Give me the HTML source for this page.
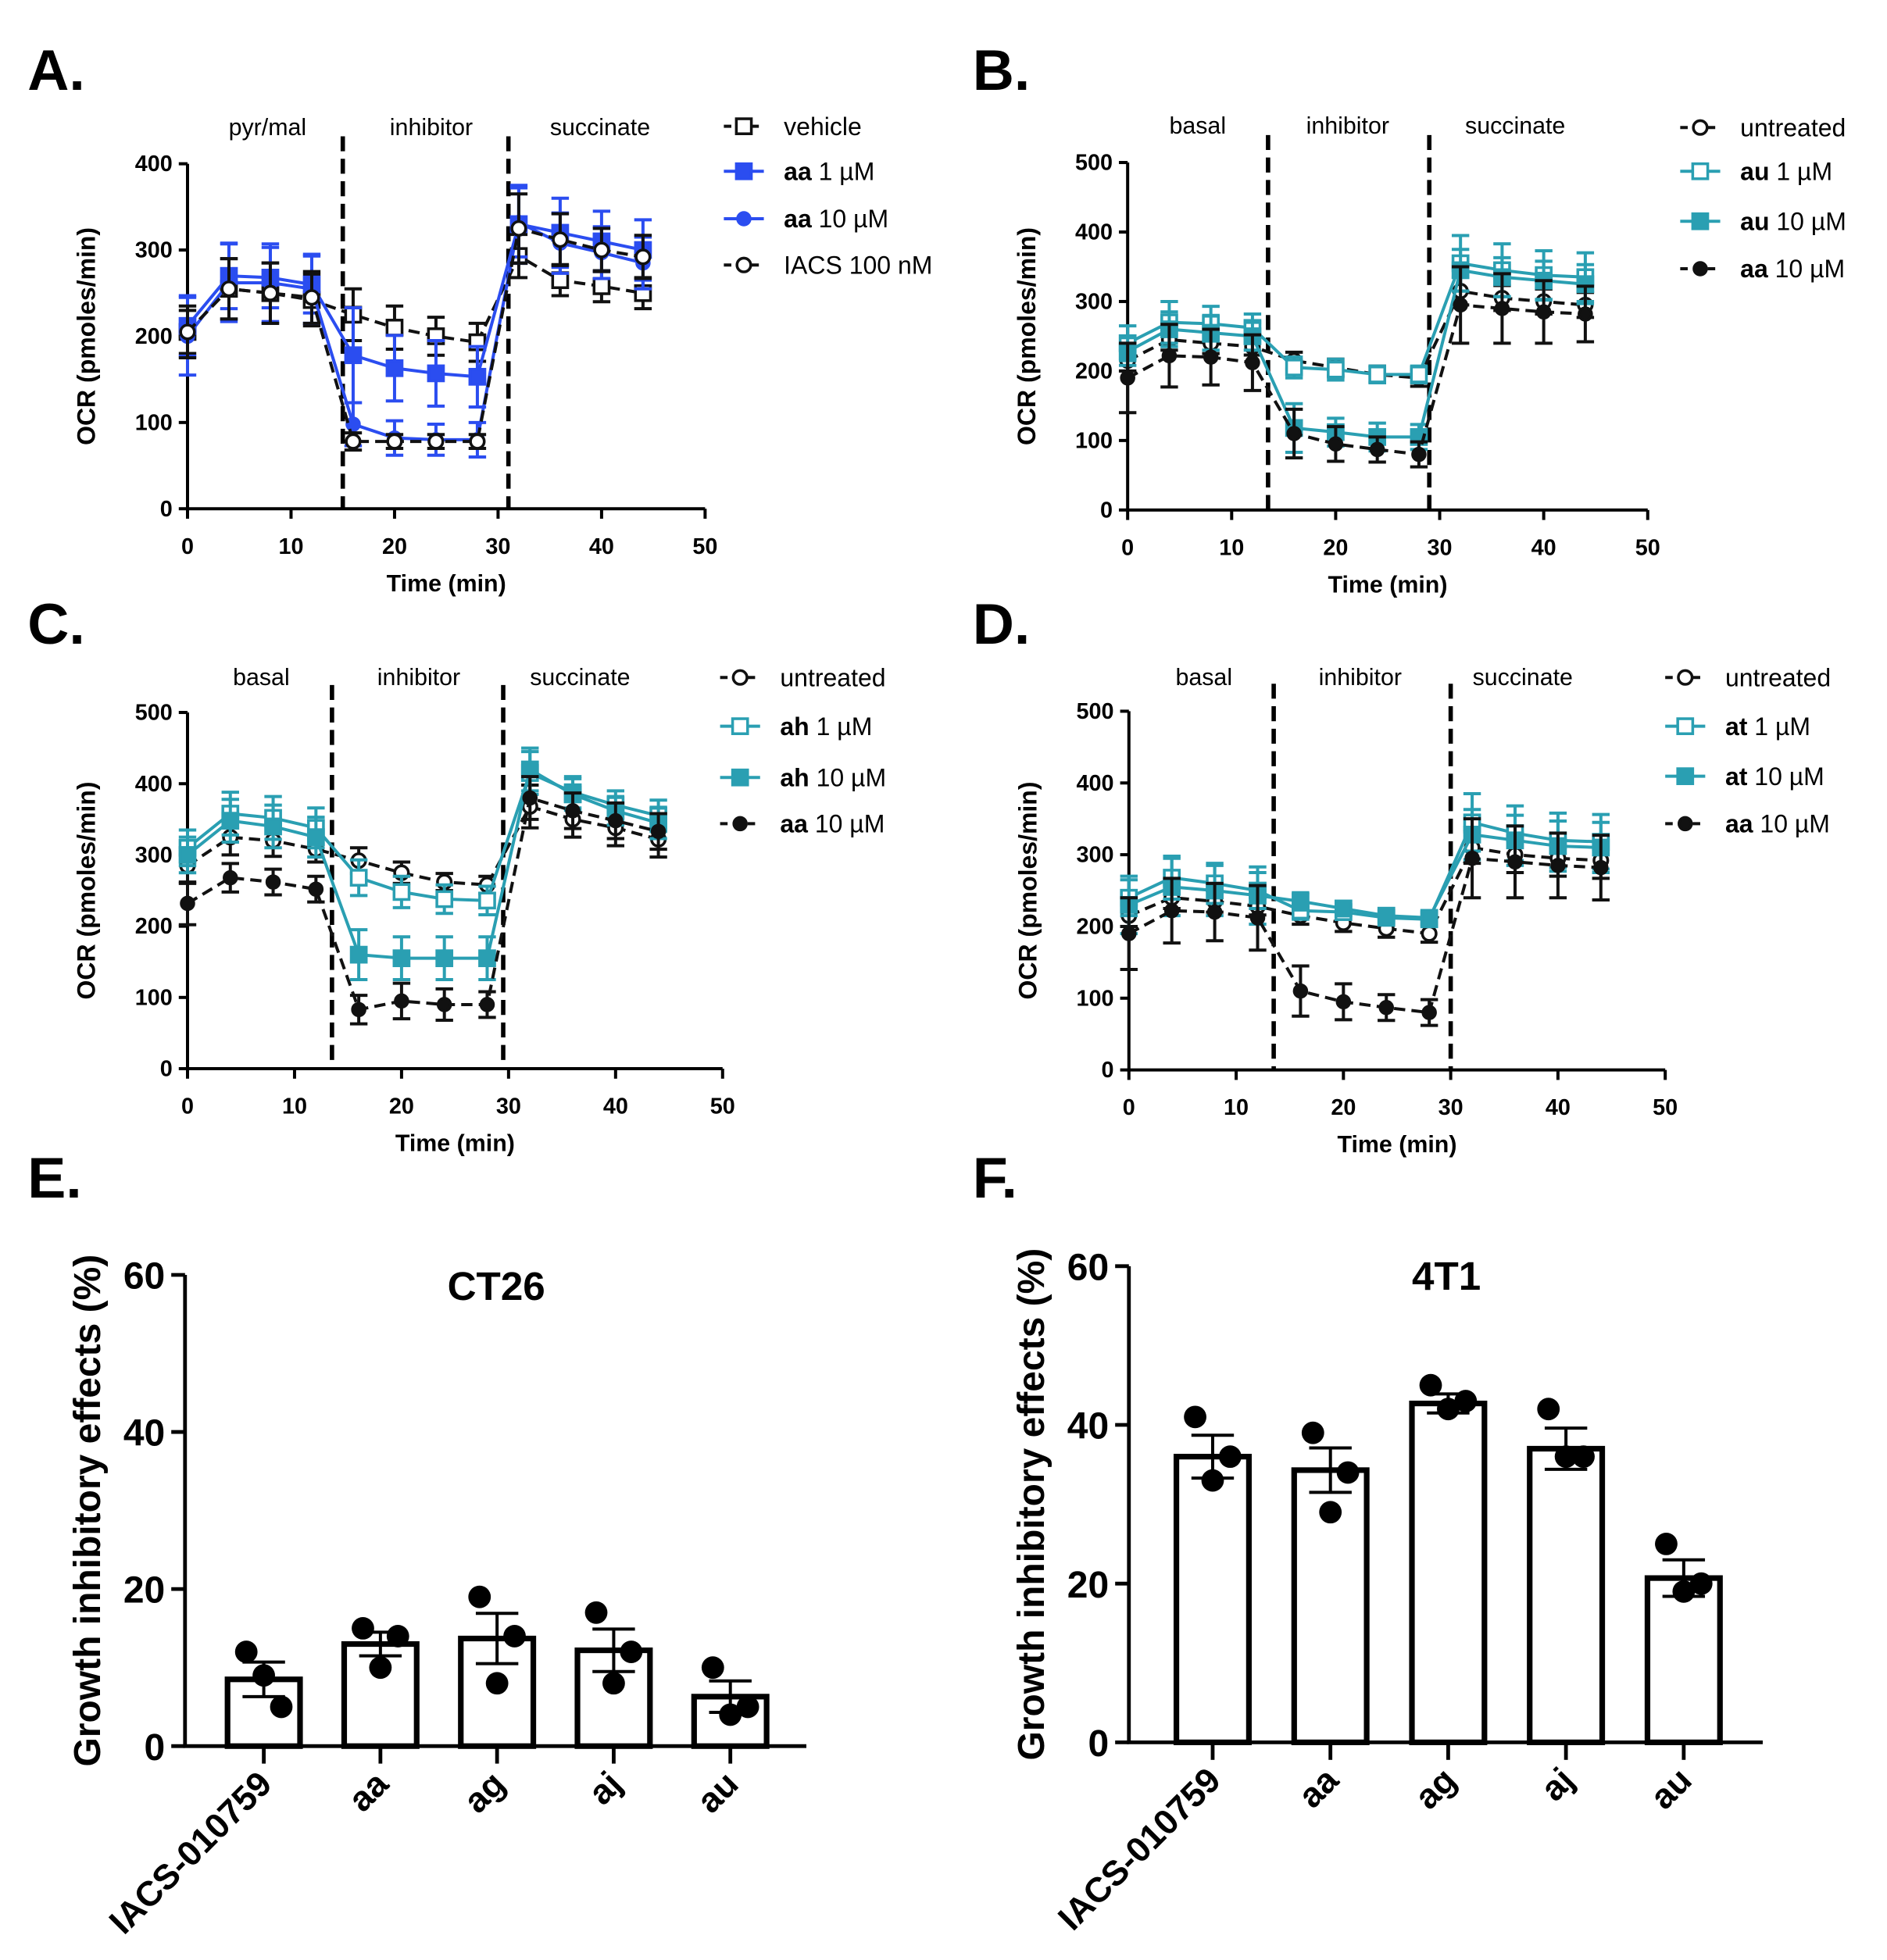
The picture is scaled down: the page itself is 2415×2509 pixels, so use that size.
<!DOCTYPE html>
<html><head><meta charset="utf-8"><style>
html,body{margin:0;padding:0;background:#fff;}
svg{display:block;font-family:"Liberation Sans",sans-serif;}
</style></head><body>
<svg id="fig" width="2415" height="2509" viewBox="0 0 1509.4 1568.1" xmlns="http://www.w3.org/2000/svg"></svg>
<script>
const times = [0,4,8,12,16,20,24,28,32,36,40,44];
const BLK = '#111', BLUE = '#2b4df0', TEAL = '#2a9fb2';
// Panel A
const aVehicle = [205,255,250,242,225,210,200,193,293,265,258,250];
const aVehicleErr = [25,35,35,30,30,25,22,22,25,18,18,18];
const aAa1 = [212,270,268,260,178,163,157,153,330,320,310,300];
const aAa1Err = [35,38,35,33,55,38,38,35,45,40,35,35];
const aAa10 = [200,262,262,255,98,82,80,80,332,308,297,285];
const aAa10Err = [45,45,45,40,25,20,18,20,40,35,30,30];
const aIacs = [205,255,250,245,78,78,78,78,325,312,300,292];
const aIacsErr = [30,35,35,30,10,8,8,8,40,30,25,25];
// Panel B
const bUnt = [215,245,240,235,215,205,195,190,315,305,300,295];
const bUntErr = [15,15,15,12,12,12,12,12,20,18,18,18];
const bAu1 = [240,270,268,262,205,202,195,195,355,345,338,335];
const bAu1Err = [25,30,25,20,15,15,12,12,40,38,35,35];
const bAu10 = [228,260,255,250,118,112,105,105,345,335,330,325];
const bAu10Err = [20,25,25,20,35,20,20,18,30,28,28,28];
const bAa10 = [190,222,220,212,110,95,87,80,295,290,285,282];
const bAa10Err = [50,45,40,40,35,25,18,18,55,50,45,40];
// Panel C
const cUnt = [285,325,320,308,292,275,262,258,368,350,338,322];
const cUntErr = [25,25,22,18,18,15,12,12,30,25,25,25];
const cAh1 = [310,358,352,338,268,248,238,236,415,388,370,355];
const cAh1Err = [25,30,30,28,25,22,20,20,30,22,20,22];
const cAh10 = [300,348,340,325,160,155,155,155,420,385,362,345];
const cAh10Err = [25,30,30,28,35,30,30,30,30,22,20,22];
const cAa10 = [232,268,262,252,83,95,90,90,380,362,348,333];
const cAa10Err = [30,20,18,18,20,25,22,18,30,25,25,25];
// Panel D
const dUnt = [215,240,235,228,215,205,197,190,310,300,295,292];
const dUntErr = [15,15,15,12,12,12,12,12,22,25,25,25];
const dAt1 = [240,268,260,250,222,220,212,210,345,330,320,318];
const dAt1Err = [25,30,28,25,12,10,8,8,40,38,38,38];
const dAt10 = [230,255,250,243,235,225,215,212,328,320,312,310];
const dAt10Err = [40,40,35,40,12,10,8,8,35,35,35,35];
const dAa10 = [190,222,220,212,110,95,87,80,295,290,285,282];
const dAa10Err = [50,45,40,45,35,25,18,18,55,50,45,45];
// Bars
const barCats = ['IACS-010759','aa','ag','aj','au'];
const eMeans = [8.5,13,13.7,12.2,6.3];
const eErr = [2.2,1.5,3.2,2.7,2.0];
const ePts = [[12,9,5],[15,10,14],[19,8,14],[17,8,12],[10,4,5]];
const fMeans = [36,34.3,42.7,37,20.7];
const fErr = [2.7,2.8,1.2,2.6,2.3];
const fPts = [[41,33,36],[39,29,34],[45,42,43],[42,36,36],[25,19,20]];
const lineTicksX = [0,10,20,30,40,50];
const barTicksY = [0,20,40,60];

const svg = document.getElementById('fig');
const NS = 'http://www.w3.org/2000/svg';
function mk(tag, attrs, parent, text){
  const e = document.createElementNS(NS, tag);
  for (const k in attrs) e.setAttribute(k, attrs[k]);
  if (text !== undefined) e.textContent = text;
  (parent||svg).appendChild(e);
  return e;
}
function marker(g, shape, filled, color, x, y, s){
  let m;
  if (shape==='sq') m = mk('rect',{x:x-s,y:y-s,width:2*s,height:2*s,fill:filled?color:'#fff',stroke:color,'stroke-width':2.2},g);
  else m = mk('circle',{cx:x,cy:y,r:s,fill:filled?color:'#fff',stroke:color,'stroke-width':2.2},g);
  return m;
}
function letter(t,x,y){
  const e = mk('text',{x:x,y:y,'font-size':46,'font-weight':'bold',fill:'#000'},svg,t);
  
  
}
function linePanel(cfg){
  const g = mk('g',{});
  
  
  const X = v => cfg.x0 + (v/50)*(cfg.x50-cfg.x0);
  const Y = v => cfg.y0 - (v/cfg.ymax)*(cfg.y0-cfg.ytop);
  const ax = mk('path',{d:`M${cfg.x0} ${cfg.ytop} V${cfg.y0} H${cfg.x50}`,fill:'none',stroke:'#000','stroke-width':2.5},g);
  
  
  for (const t of cfg.yticks){
    mk('line',{x1:cfg.x0-7,x2:cfg.x0,y1:Y(t),y2:Y(t),stroke:'#000','stroke-width':2.5},g);
    const tl = mk('text',{x:cfg.x0-12,y:Y(t)+6,'text-anchor':'end','font-size':18,'font-weight':'bold'},g,t);
    
    
  }
  for (const t of lineTicksX){
    mk('line',{x1:X(t),x2:X(t),y1:cfg.y0,y2:cfg.y0+8,stroke:'#000','stroke-width':2.5},g);
    const tl = mk('text',{x:X(t),y:cfg.y0+36,'text-anchor':'middle','font-size':18,'font-weight':'bold'},g,t);
    
    
  }
  const xt = mk('text',{x:(cfg.x0+cfg.x50)/2,y:cfg.y0+66,'text-anchor':'middle','font-size':19,'font-weight':'bold'},g,'Time (min)');
  
  
  const cy = (cfg.y0+cfg.ytop)/2;
  const yt = mk('text',{x:cfg.x0-74,y:cy,'text-anchor':'middle','font-size':20,'font-weight':'bold',transform:`rotate(-90 ${cfg.x0-74} ${cy})`},g,'OCR (pmoles/min)');
  
  
  for (const d of cfg.dash){
    const dl = mk('line',{x1:X(d),x2:X(d),y1:cfg.ytop-22,y2:cfg.y0,stroke:'#000','stroke-width':3.5,'stroke-dasharray':'12 6'},g);
    
    
  }
  cfg.phases.forEach((p,i)=>{
    const pl = mk('text',{x:cfg.phaseX[i],y:cfg.phaseY,'text-anchor':'middle','font-size':19},g,p);
    
    
  });
  cfg.series.forEach((s,si)=>{
    const sg = mk('g',{},g);
    
    
    s.vals.forEach((v,i)=>{
      const x = X(times[i]);
      mk('line',{x1:x,x2:x,y1:Y(v-s.err[i]),y2:Y(v+s.err[i]),stroke:s.color,'stroke-width':2.5},sg);
      for (const e of [v-s.err[i],v+s.err[i]]) mk('line',{x1:x-7,x2:x+7,y1:Y(e),y2:Y(e),stroke:s.color,'stroke-width':2.5},sg);
    });
    const d = s.vals.map((v,i)=>(i?'L':'M')+X(times[i]).toFixed(1)+' '+Y(v).toFixed(1)).join(' ');
    const ln = mk('path',{d:d,fill:'none',stroke:s.color,'stroke-width':2.5,'stroke-dasharray':s.dashed?'9 5':'none'},sg);
    
    
    s.vals.forEach((v,i)=>{
      const m = marker(sg,s.shape,s.filled,s.color,X(times[i]),Y(v),s.shape==='sq'?6:(s.filled?5:5.5));
      
      
    });
    const ly = cfg.legY[si];
    const lg = mk('g',{},g);
    
    
    mk('line',{x1:cfg.legX-16,x2:cfg.legX+16,y1:ly,y2:ly,stroke:s.color,'stroke-width':2.5,'stroke-dasharray':s.dashed?'6 5':'none'},lg);
    marker(lg,s.shape,s.filled,s.color,cfg.legX,ly,s.shape==='sq'?6:(s.filled?5:5.5));
    const t = mk('text',{x:cfg.legX+32,y:ly+7,'font-size':20},lg);
    mk('tspan',{'font-weight':'bold'},t,s.bold);
    mk('tspan',{},t,s.rest);
  });
}
letter('A.',22,72); letter('B.',778,72); letter('C.',22,515); letter('D.',778,515); letter('E.',22,958); letter('F.',778,958);

linePanel({id:'a',x0:150,x50:564,y0:407,ytop:131,ymax:400,yticks:[0,100,200,300,400],dash:[15,31],
  phases:['pyr/mal','inhibitor','succinate'],phaseX:[214,345,480],phaseY:108,legX:595,legY:[101,137,175,212],
  series:[
   {key:'vehicle',vals:aVehicle,err:aVehicleErr,color:BLK,shape:'sq',filled:false,dashed:true,bold:'',rest:'vehicle'},
   {key:'aa-1',vals:aAa1,err:aAa1Err,color:BLUE,shape:'sq',filled:true,dashed:false,bold:'aa',rest:' 1 µM'},
   {key:'aa-10',vals:aAa10,err:aAa10Err,color:BLUE,shape:'ci',filled:true,dashed:false,bold:'aa',rest:' 10 µM'},
   {key:'iacs',vals:aIacs,err:aIacsErr,color:BLK,shape:'ci',filled:false,dashed:true,bold:'',rest:'IACS 100 nM'}]});
linePanel({id:'b',x0:902,x50:1318,y0:408,ytop:130,ymax:500,yticks:[0,100,200,300,400,500],dash:[13.5,29],
  phases:['basal','inhibitor','succinate'],phaseX:[958,1078,1212],phaseY:107,legX:1360,legY:[102,137,177,215],
  series:[
   {key:'untreated',vals:bUnt,err:bUntErr,color:BLK,shape:'ci',filled:false,dashed:true,bold:'',rest:'untreated'},
   {key:'au-1',vals:bAu1,err:bAu1Err,color:TEAL,shape:'sq',filled:false,dashed:false,bold:'au',rest:' 1 µM'},
   {key:'au-10',vals:bAu10,err:bAu10Err,color:TEAL,shape:'sq',filled:true,dashed:false,bold:'au',rest:' 10 µM'},
   {key:'aa-10',vals:bAa10,err:bAa10Err,color:BLK,shape:'ci',filled:true,dashed:true,bold:'aa',rest:' 10 µM'}]});
linePanel({id:'c',x0:150,x50:578,y0:855,ytop:570,ymax:500,yticks:[0,100,200,300,400,500],dash:[13.5,29.5],
  phases:['basal','inhibitor','succinate'],phaseX:[209,335,464],phaseY:548,legX:592,legY:[542,581,622,659],
  series:[
   {key:'untreated',vals:cUnt,err:cUntErr,color:BLK,shape:'ci',filled:false,dashed:true,bold:'',rest:'untreated'},
   {key:'ah-1',vals:cAh1,err:cAh1Err,color:TEAL,shape:'sq',filled:false,dashed:false,bold:'ah',rest:' 1 µM'},
   {key:'ah-10',vals:cAh10,err:cAh10Err,color:TEAL,shape:'sq',filled:true,dashed:false,bold:'ah',rest:' 10 µM'},
   {key:'aa-10',vals:cAa10,err:cAa10Err,color:BLK,shape:'ci',filled:true,dashed:true,bold:'aa',rest:' 10 µM'}]});
linePanel({id:'d',x0:903,x50:1332,y0:856,ytop:569,ymax:500,yticks:[0,100,200,300,400,500],dash:[13.5,30],
  phases:['basal','inhibitor','succinate'],phaseX:[963,1088,1218],phaseY:548,legX:1348,legY:[542,581,621,659],
  series:[
   {key:'untreated',vals:dUnt,err:dUntErr,color:BLK,shape:'ci',filled:false,dashed:true,bold:'',rest:'untreated'},
   {key:'at-1',vals:dAt1,err:dAt1Err,color:TEAL,shape:'sq',filled:false,dashed:false,bold:'at',rest:' 1 µM'},
   {key:'at-10',vals:dAt10,err:dAt10Err,color:TEAL,shape:'sq',filled:true,dashed:false,bold:'at',rest:' 10 µM'},
   {key:'aa-10',vals:dAa10,err:dAa10Err,color:BLK,shape:'ci',filled:true,dashed:true,bold:'aa',rest:' 10 µM'}]});

function barPanel(cfg){
  const g = mk('g',{});
  
  
  const Y = v => cfg.y0 - (v/60)*(cfg.y0-cfg.ytop);
  const X = i => cfg.xc0 + i*cfg.step;
  const ax = mk('path',{d:`M${cfg.x0} ${cfg.ytop} V${cfg.y0} H${cfg.xend}`,fill:'none',stroke:'#000','stroke-width':3},g);
  
  
  for (const t of barTicksY){
    mk('line',{x1:cfg.x0-11,x2:cfg.x0,y1:Y(t),y2:Y(t),stroke:'#000','stroke-width':3},g);
    const tl = mk('text',{x:cfg.x0-16,y:Y(t)+11,'text-anchor':'end','font-size':30,'font-weight':'bold'},g,t);
    
    
  }
  const cy=(cfg.y0+cfg.ytop)/2;
  const yt = mk('text',{x:cfg.x0-68,y:cy,'text-anchor':'middle','font-size':30,'font-weight':'bold',transform:`rotate(-90 ${cfg.x0-68} ${cy})`},g,'Growth inhibitory effects (%)');
  
  
  const tt = mk('text',{x:cfg.titleX,y:cfg.titleY,'text-anchor':'middle','font-size':32,'font-weight':'bold'},g,cfg.title);
  
  
  const offs=[-14,0,14];
  barCats.forEach((c,i)=>{
    const x=X(i), m=cfg.means[i], e=cfg.err[i];
    const b = mk('rect',{x:x-29,y:Y(m),width:58,height:cfg.y0-Y(m),fill:'#fff',stroke:'#000','stroke-width':4.5},g);
    
    
    mk('line',{x1:x,x2:x,y1:Y(m-e),y2:Y(m+e),stroke:'#000','stroke-width':2.5},g);
    for (const v of [m-e,m+e]) mk('line',{x1:x-17,x2:x+17,y1:Y(v),y2:Y(v),stroke:'#000','stroke-width':2.5},g);
    cfg.pts[i].forEach((p,j)=>{
      const d = mk('circle',{cx:x+offs[j],cy:Y(p),r:9,fill:'#000'},g);
      
      
    });
    mk('line',{x1:x,x2:x,y1:cfg.y0,y2:cfg.y0+14,stroke:'#000','stroke-width':3},g);
    const tx=x+8, ty=cfg.y0+32;
    const tl = mk('text',{x:tx,y:ty,'text-anchor':'end','font-size':28,'font-weight':'bold',transform:`rotate(-45 ${tx} ${ty})`},g,c);
    
    
  });
}
barPanel({id:'e',x0:148,xend:645,y0:1397,ytop:1020,xc0:211,step:93.3,means:eMeans,err:eErr,pts:ePts,title:'CT26',titleX:397,titleY:1040});
barPanel({id:'f',x0:903,xend:1410,y0:1394,ytop:1013,xc0:970,step:94.2,means:fMeans,err:fErr,pts:fPts,title:'4T1',titleX:1157,titleY:1032});
</script>
</body></html>
